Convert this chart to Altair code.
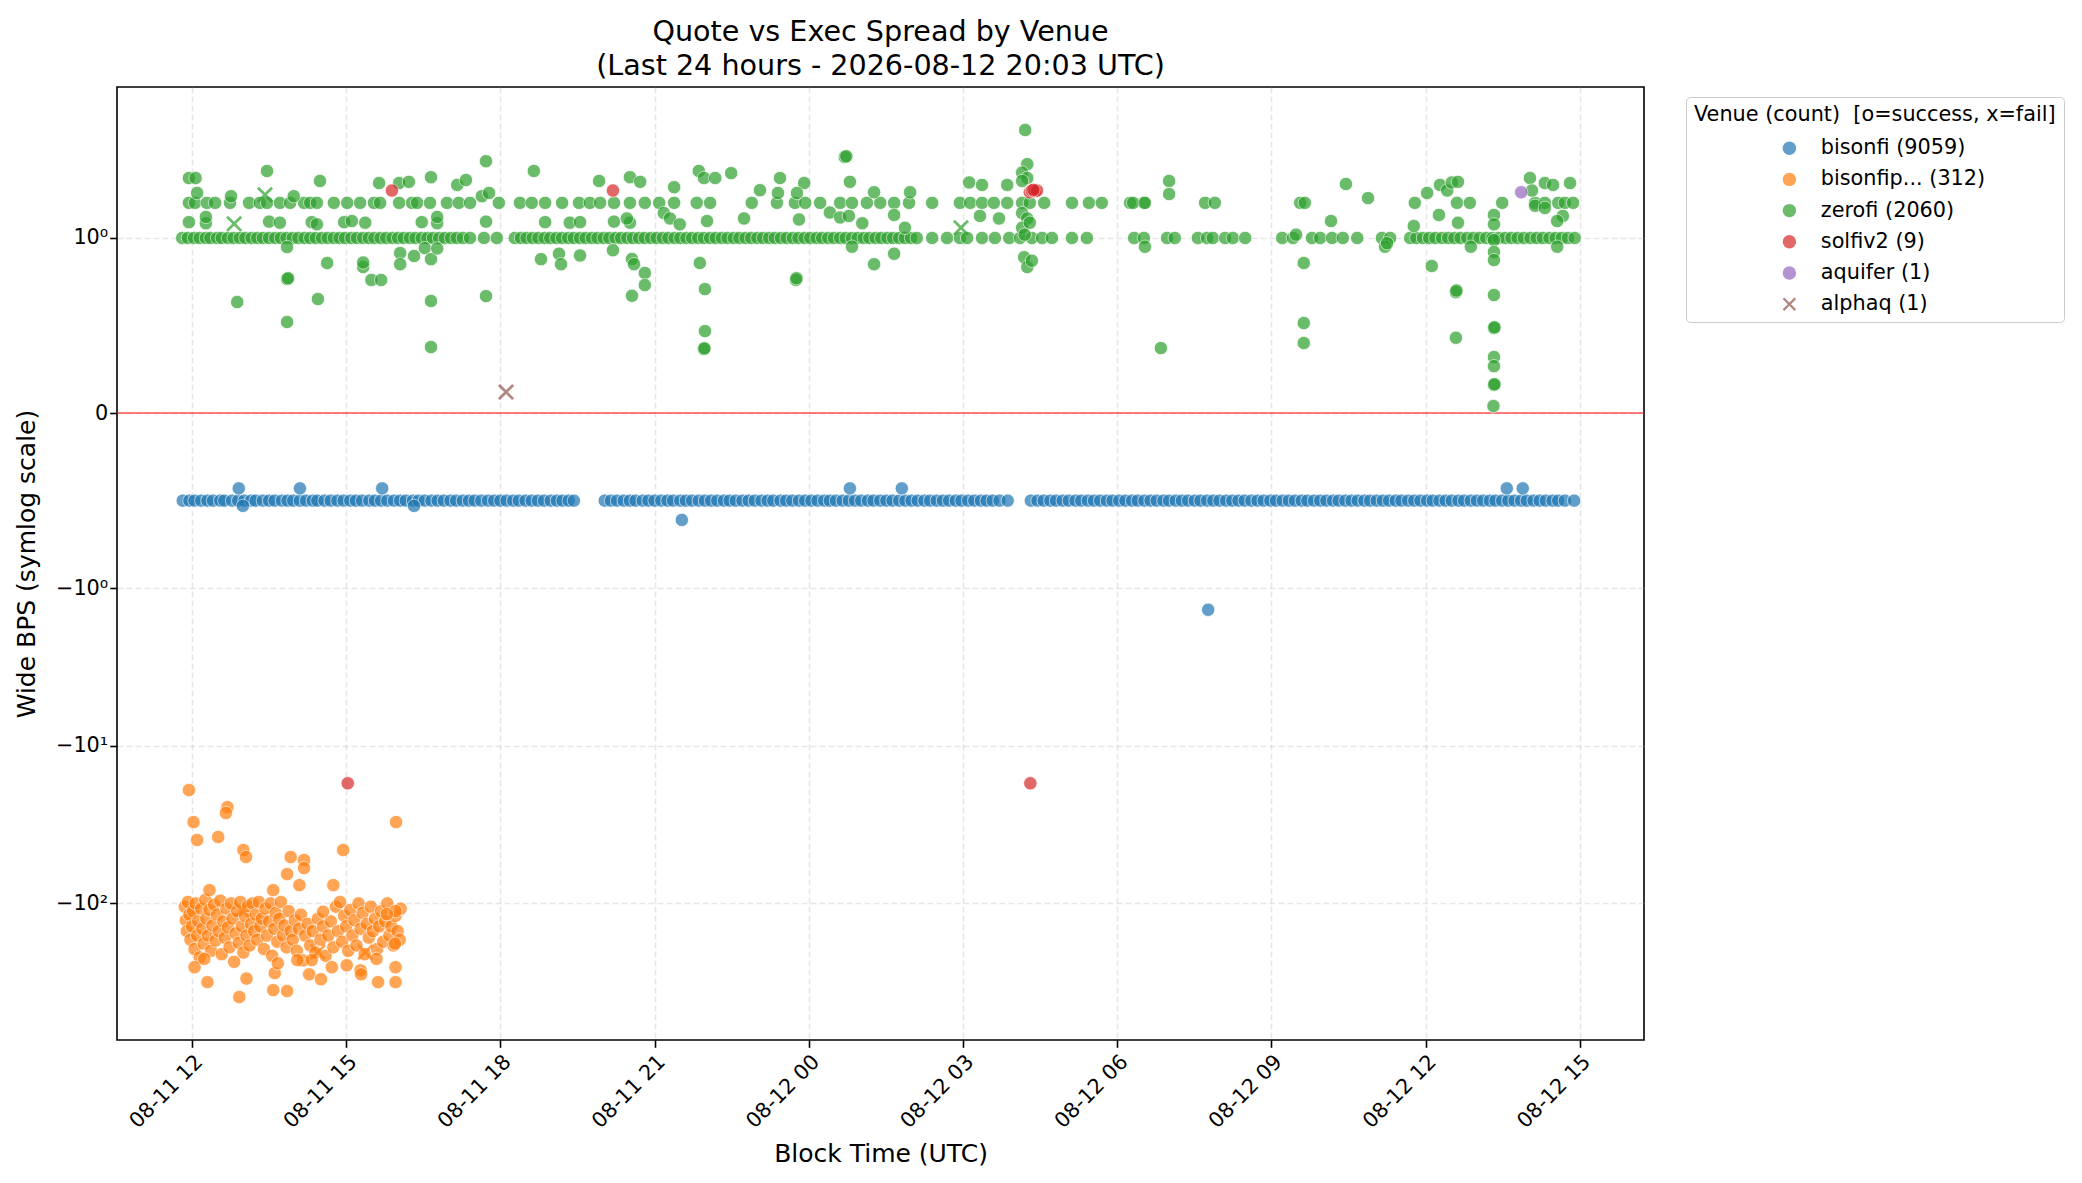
import altair as alt
import pandas as pd

# ---------------- data (times in hours since 2026-08-11 00:00 UTC) ----------------
L_B = "bisonfi (9059)"
L_BP = "bisonfip... (312)"
L_Z = "zerofi (2060)"
L_S = "solfiv2 (9)"
L_AQ = "aquifer (1)"
L_AL = "alphaq (1)"
K_BP_FAIL = "bisonfip fail"
K_Z_FAIL = "zerofi fail"

venue_labels = [L_B, L_BP, L_Z, L_S, L_AQ, L_AL]

# bisonfi: dense band at -0.5
bisonfi_band_level = -0.5
bisonfi_band_t = [
    11.82, 11.95, 12.05, 12.18, 12.30, 12.41, 12.55, 12.63, 12.78, 12.90, 13.02, 13.15, 13.24, 13.38,
    13.50, 13.61, 13.75, 13.86, 13.97, 14.10, 14.22, 14.35, 14.44, 14.58, 14.70, 14.83, 14.95, 15.08,
    15.19, 15.31, 15.45, 15.56, 15.68, 15.80, 15.93, 16.05, 16.16, 16.30, 16.41, 16.53, 16.66, 16.78,
    16.90, 17.03, 17.14, 17.27, 17.39, 17.50, 17.63, 17.76, 17.88, 18.00, 18.12, 18.25, 18.36, 18.49,
    18.61, 18.73, 18.85, 18.98, 19.10, 19.21, 19.33, 19.43,
    20.03, 20.15, 20.27, 20.40, 20.52, 20.63, 20.77, 20.88, 21.00, 21.13, 21.25, 21.36, 21.50, 21.61,
    21.73, 21.86, 21.98, 22.10, 22.22, 22.35, 22.46, 22.58, 22.71, 22.83, 22.95, 23.08, 23.20, 23.31,
    23.45, 23.56, 23.68, 23.81, 23.93, 24.05, 24.17, 24.30, 24.41, 24.53, 24.66, 24.78, 24.90, 25.02,
    25.15, 25.26, 25.39, 25.51, 25.63, 25.76, 25.88, 26.00, 26.12, 26.25, 26.36, 26.49, 26.61, 26.73,
    26.86, 26.97, 27.10, 27.22, 27.35, 27.46, 27.58, 27.71, 27.87,
    28.32, 28.45, 28.57, 28.70, 28.81, 28.94, 29.06, 29.19, 29.30, 29.43, 29.55, 29.67, 29.80, 29.91,
    30.04, 30.16, 30.29, 30.40, 30.53, 30.65, 30.77, 30.90, 31.01, 31.14, 31.26, 31.38, 31.51, 31.62,
    31.75, 31.87, 31.99, 32.12, 32.24, 32.36, 32.48, 32.61, 32.73, 32.85, 32.98, 33.09, 33.22, 33.34,
    33.46, 33.59, 33.70, 33.83, 33.95, 34.07, 34.20, 34.31, 34.44, 34.56, 34.68, 34.81, 34.92, 35.05,
    35.17, 35.29, 35.42, 35.53, 35.66, 35.78, 35.90, 36.03, 36.14, 36.27, 36.39, 36.51, 36.64, 36.75,
    36.88, 37.00, 37.12, 37.25, 37.36, 37.49, 37.61, 37.73, 37.86, 37.97, 38.10, 38.22, 38.34, 38.47,
    38.58, 38.71, 38.89,
]
bisonfi_out_t = [12.91, 14.10, 15.70, 24.80, 25.81, 37.58, 37.89, 21.53, 12.99, 16.32, 31.77]
bisonfi_out_v = [-0.43, -0.43, -0.43, -0.43, -0.43, -0.43, -0.43, -0.61, -0.53, -0.53, -1.37]

# bisonfip... : cluster around -100 .. -400
bisonfip_t = [
    11.86, 11.88, 11.90, 11.92, 11.95, 11.97, 12.00, 12.02, 12.05, 12.07, 12.10, 12.12, 12.15, 12.18,
    12.20, 12.23, 12.26, 12.28, 12.31, 12.34, 12.37, 12.40, 12.43, 12.46, 12.49, 12.52, 12.55, 12.58,
    12.61, 12.64, 12.67, 12.70, 12.73, 12.76, 12.79, 12.82, 12.85, 12.88, 12.91, 12.94, 12.97, 13.00,
    13.03, 13.06, 13.09, 13.12, 13.15, 13.18, 13.21, 13.24, 13.27, 13.30, 13.33, 13.36, 13.40, 13.43,
    13.46, 13.50, 13.53, 13.56, 13.60, 13.63, 13.66, 13.70, 13.73, 13.77, 13.80, 13.84, 13.88, 13.92,
    13.96, 14.00, 14.04, 14.08, 14.12, 14.16, 14.20, 14.25, 14.30, 14.35, 14.40, 14.45, 14.50, 14.55,
    14.60, 14.65, 14.70, 14.75, 14.80, 14.84, 14.88, 14.92, 14.96, 15.00, 15.04, 15.08, 15.12, 15.16,
    15.20, 15.24, 15.28, 15.32, 15.36, 15.40, 15.44, 15.48, 15.52, 15.56, 15.60, 15.64, 15.68, 15.72,
    15.76, 15.80, 15.84, 15.88, 15.92, 15.96, 16.00, 16.04, 16.06,
    11.94, 12.03, 12.10, 12.51, 12.69, 12.66, 13.00, 13.05, 13.92, 14.18, 14.18, 13.85, 14.09, 14.75,
    14.94, 15.97, 13.58, 12.34,
    12.92, 13.58, 13.85, 12.30, 13.06, 12.05, 13.61, 13.67, 14.28, 14.51, 15.62, 15.96, 15.96, 15.28,
    15.29, 12.24, 14.05, 14.33, 14.72, 15.01, 15.59, 15.95, 15.96, 14.55, 15.79,
]
bisonfip_v = [
    -105, -128, -150, -98, -118, -170, -140, -112, -195, -100, -160, -130, -220, -108,
    -145, -180, -95, -125, -160, -110, -200, -138, -102, -172, -118, -150, -96, -210,
    -130, -165, -108, -142, -190, -100, -125, -235, -155, -112, -178, -98, -140, -205,
    -120, -160, -104, -185, -135, -100, -150, -118, -170, -98, -140, -125, -195, -108,
    -160, -130, -100, -215, -145, -115, -175, -125, -98, -160, -138, -190, -112, -150,
    -170, -128, -200, -145, -118, -230, -160, -135, -185, -150, -205, -125, -170, -140,
    -215, -160, -130, -190, -105, -150, -98, -175, -120, -140, -200, -110, -160, -128,
    -185, -100, -145, -115, -210, -135, -165, -105, -150, -125, -195, -140, -112, -175,
    -130, -100, -160, -140, -185, -120, -150, -170, -108,
    -19.1, -30.5, -39.6, -37.9, -24.5, -26.7, -45.9, -50.8, -50.8, -53.1, -59.7, -65.2, -76.6, -76.6,
    -45.9, -30.5, -82.4, -82.4,
    -393, -355, -360, -316, -300, -254, -277, -240, -282, -303, -316, -316, -254, -266,
    -282, -225, -229, -229, -254, -247, -225, -180, -112, -113, -117,
]
bisonfip_fail_t = [12.97, 14.45, 15.37]
bisonfip_fail_v = [-110, -204, -204]

# zerofi: bands at 1.0 and ~1.67 plus scattered values
zerofi_band1_level = 1.0
zerofi_band1_t = [
    11.81, 11.92, 12.04, 12.15, 12.27, 12.36, 12.49, 12.58, 12.70, 12.81, 12.93, 13.04, 13.16, 13.27,
    13.38, 13.50, 13.62, 13.73, 13.84, 13.96, 14.07, 14.19, 14.30, 14.41, 14.53, 14.64, 14.76, 14.87,
    14.98, 15.10, 15.21, 15.33, 15.44, 15.55, 15.67, 15.78, 15.90, 16.01, 16.12, 16.24, 16.35, 16.47,
    16.58, 16.69, 16.81, 16.92, 17.04, 17.15, 17.27, 17.41, 17.68, 17.93,
    18.28, 18.40, 18.51, 18.63, 18.74, 18.86, 18.97, 19.09, 19.20, 19.32, 19.43, 19.55, 19.66, 19.78,
    19.89, 20.01, 20.12, 20.24, 20.35, 20.47, 20.58, 20.70, 20.81, 20.93, 21.04, 21.16, 21.27, 21.39,
    21.50, 21.62, 21.73, 21.85, 21.96, 22.08, 22.19, 22.31, 22.42, 22.54, 22.65, 22.77, 22.88, 23.00,
    23.11, 23.23, 23.34, 23.46, 23.57, 23.69, 23.80, 23.92, 24.03, 24.15, 24.26, 24.38, 24.49, 24.61,
    24.72, 24.84, 24.95, 25.07, 25.18, 25.30, 25.41, 25.53, 25.64, 25.76, 25.87, 25.99, 26.10,
    26.40, 26.69, 26.94, 27.08, 27.37, 27.62, 27.90, 28.11, 28.34, 28.54, 28.73, 29.12, 29.41,
    30.33, 30.52, 30.97, 31.12, 31.57, 31.75, 31.86, 32.10, 32.25, 32.49,
    33.21, 33.42, 33.79, 33.95, 34.18, 34.39, 34.67, 35.15, 35.31,
    35.70, 35.82, 35.95, 36.07, 36.19, 36.32, 36.44, 36.56, 36.68, 36.81, 36.93, 37.05, 37.18, 37.30,
    37.42, 37.55, 37.67, 37.79, 37.91, 38.04, 38.16, 38.28, 38.41, 38.53, 38.65, 38.77, 38.90,
]
zerofi_band2_level = 1.67
zerofi_band2_t = [
    11.94, 12.06, 12.29, 12.45, 12.74, 13.11, 13.32, 13.46, 13.71, 13.91, 14.18, 14.30, 14.43, 14.76,
    15.02, 15.27, 15.54, 15.66, 16.03, 16.28, 16.38, 16.63, 16.96, 17.19, 17.41, 17.97, 18.38, 18.61,
    18.87, 19.20, 19.53, 19.74, 19.94, 20.21, 20.52,
    20.81, 21.09, 21.38, 21.82, 22.08, 22.89, 23.38, 23.73, 23.93, 24.22, 24.61, 24.84, 25.13, 25.39,
    25.66, 25.95, 26.40, 26.94, 27.14, 27.37, 27.60, 27.86, 28.15, 28.30, 28.58, 29.12, 29.45, 29.70,
    30.25, 30.52, 30.31, 30.54, 31.71, 31.90, 33.56, 33.65, 35.79, 36.61, 36.86, 37.49, 38.13, 38.32,
    38.58, 38.71, 38.87,
]
zerofi_other_t = [
    11.94, 12.07, 12.10, 12.76, 13.46, 14.49, 13.98, 15.64, 16.03, 16.22, 16.65, 17.16, 17.33, 17.72,
    17.64, 17.78, 18.65, 19.92, 20.52,
    11.94, 12.27, 13.50, 13.71, 14.33, 14.43, 14.96, 15.11, 15.37, 16.47, 16.77, 17.72, 18.87, 19.35,
    19.55, 20.21, 20.52, 12.27, 16.77,
    13.85, 14.63, 15.33, 15.33, 16.05, 16.05, 16.32, 16.53, 16.65, 16.77, 13.85, 13.87, 15.49, 15.68,
    12.88, 14.45, 16.65, 17.72, 13.85, 16.65, 18.79, 19.14, 19.18, 19.55, 20.19, 20.56, 20.56,
    20.72, 21.38, 21.86, 21.96, 22.18, 22.49, 23.05, 23.44, 23.40, 23.91, 23.77, 24.70, 24.73, 24.80,
    25.27, 25.97, 27.12, 27.37, 27.86, 28.21, 28.25, 28.15, 28.25, 28.15, 28.15, 28.25, 28.15, 28.19,
    28.25, 28.34, 28.30, 28.20,
    20.46, 21.18, 21.30, 21.49, 22.02, 22.74, 23.81, 24.41, 24.61, 24.78, 25.04, 25.66, 25.87, 27.33,
    27.70,
    20.60, 20.81, 20.81, 21.88, 21.98, 21.98, 21.96, 21.97, 23.75, 23.76, 25.27, 25.66, 24.84, 30.54,
    31.01, 31.01, 30.85, 33.63, 33.63, 33.63, 33.48, 34.16, 34.45, 34.88, 35.21, 35.25, 35.77, 36.03,
    36.28, 36.42, 36.51, 36.63, 36.26, 36.63, 36.12, 36.59, 36.60, 36.59, 36.88,
    37.33, 37.33, 37.33, 37.33, 37.33, 37.33, 37.33, 37.34, 37.33, 37.33, 37.33, 37.34, 37.32,
    38.03, 38.07, 38.32, 38.48, 38.81, 38.13, 38.32, 38.67, 38.56, 38.56,
]
zerofi_other_v = [
    2.40, 2.40, 1.93, 1.84, 2.66, 2.30, 1.84, 2.23, 2.23, 2.27, 2.43, 2.17, 2.33, 3.07,
    1.84, 1.93, 2.66, 2.30, 2.43,
    1.26, 1.24, 1.27, 1.25, 1.26, 1.22, 1.26, 1.28, 1.25, 1.26, 1.24, 1.27, 1.26, 1.25,
    1.26, 1.27, 1.25, 1.36, 1.36,
    0.948, 0.857, 0.834, 0.86, 0.914, 0.85, 0.897, 0.942, 0.879, 0.94, 0.765, 0.77, 0.76, 0.76,
    0.634, 0.651, 0.64, 0.668, 0.52, 0.377, 0.879, 0.91, 0.85, 0.90, 0.93, 0.67, 0.88,
    2.27, 2.10, 2.66, 2.40, 2.40, 2.58, 2.01, 2.40, 1.93, 2.23, 1.93, 3.26, 3.30, 2.27,
    1.95, 1.95, 2.25, 2.17, 2.17, 4.84, 2.94, 2.60, 2.40, 2.30, 1.44, 1.33, 1.16, 0.89,
    0.834, 0.87, 1.25, 1.05,
    1.33, 1.44, 1.33, 1.22, 1.28, 1.33, 1.31, 1.45, 1.35, 1.38, 1.24, 1.40, 1.16, 1.38,
    1.33,
    0.85, 0.80, 0.731, 0.857, 0.708, 0.468, 0.365, 0.37, 0.76, 0.77, 0.85, 0.91, 0.95, 0.95,
    2.30, 1.90, 0.371, 0.857, 0.514, 0.40, 1.05, 1.28, 2.20, 1.79, 0.95, 0.97, 1.19, 1.93,
    2.17, 2.0, 2.25, 2.27, 1.40, 1.25, 0.84, 0.69, 0.70, 0.43, 0.95,
    1.40, 1.22, 0.988, 0.92, 0.874, 0.674, 0.485, 0.49, 0.320, 0.268, 0.160, 0.165, 0.040,
    2.40, 2.0, 2.23, 2.17, 2.23, 1.6, 1.55, 1.38, 1.28, 0.95,
]
zerofi_fail_t = [12.82, 13.42, 26.96]
zerofi_fail_v = [1.23, 1.88, 1.16]

solfiv2_t = [15.89, 20.19, 28.30, 28.34, 28.40, 28.44, 28.37, 15.03, 28.31]
solfiv2_v = [2.0, 2.0, 1.95, 2.0, 1.98, 2.0, 2.02, -17.3, -17.3]

aquifer_t = [37.86]
aquifer_v = [1.95]

alphaq_fail_t = [18.11]
alphaq_fail_v = [0.12]

tick_hours = [12, 15, 18, 21, 24, 27, 30, 33, 36, 39]
x_domain_hours = [10.541, 40.249]
y_tick_values = [-3.1111, -2.1111, -1.1111, 0.0, 1.1111]
y_domain = [-3.978, 2.069]

keys = venue_labels + [K_BP_FAIL, K_Z_FAIL]
colors = ["#1f77b4", "#ff7f0e", "#2ca02c", "#d62728", "#9467bd", "#8c564b", "#ff7f0e", "#2ca02c"]
XPATH = ("M-1,-0.76L-0.76,-1L0,-0.24L0.76,-1L1,-0.76L0.24,0L1,0.76L0.76,1L0,0.24L-0.76,1L-1,0.76L-0.24,0Z")
shapes = ["circle"] * 5 + [XPATH] * 3
FAIL_TEST = "datum.key == 'bisonfip fail' || datum.key == 'zerofi fail' || datum.key == 'alphaq (1)'"

# ---------------- build table ----------------
rows = []


def add(key, ts, vs):
    for t, v in zip(ts, vs):
        rows.append({"key": key, "h": t, "v": v})


add(L_B, bisonfi_band_t, [bisonfi_band_level] * len(bisonfi_band_t))
add(L_B, bisonfi_out_t, bisonfi_out_v)
add(L_BP, bisonfip_t, bisonfip_v)
add(K_BP_FAIL, bisonfip_fail_t, bisonfip_fail_v)
add(L_Z, zerofi_band1_t, [zerofi_band1_level] * len(zerofi_band1_t))
add(L_Z, zerofi_band2_t, [zerofi_band2_level] * len(zerofi_band2_t))
add(L_Z, zerofi_other_t, zerofi_other_v)
add(K_Z_FAIL, zerofi_fail_t, zerofi_fail_v)
add(L_S, solfiv2_t, solfiv2_v)
add(L_AQ, aquifer_t, aquifer_v)
add(L_AL, alphaq_fail_t, alphaq_fail_v)

df = pd.DataFrame(rows)
base_ms = int(pd.Timestamp("2026-08-11 00:00:00", tz="UTC").value // 10**6)
H = 3600000
df["t"] = base_ms + (df["h"] * H).round().astype("int64")
df["order"] = range(len(df))

tick_ms = [base_ms + h * H for h in tick_hours]
x_dom = [base_ms + int(h * H) for h in x_domain_hours]

FONT = "DejaVu Sans"

leg = alt.Legend(
    title="Venue (count) \u00a0[o=success, x=fail]",
    orient="none", legendX=1569, legendY=10,
    values=venue_labels,
    titleFont=FONT, titleFontSize=20.8, titleFontWeight="normal", titleColor="black",
    labelFont=FONT, labelFontSize=20.8, labelColor="black",
    labelLimit=400, titleLimit=500,
    symbolSize=180, symbolOffset=85, labelOffset=21,
    rowPadding=9.2, titlePadding=12, padding=8,
    strokeColor="#cccccc", cornerRadius=4, fillColor="white",
    symbolOpacity=0.7, symbolStrokeColor="white", symbolStrokeWidth=0.8,
)

points = alt.Chart(df).transform_calculate(
    T="datum.v >= 0 ? (datum.v <= 1 ? datum.v * 1.1111 : 1.1111 + log(datum.v) / LN10)"
      " : -(datum.v >= -1 ? -datum.v * 1.1111 : 1.1111 + log(-datum.v) / LN10)"
).mark_point(filled=True, opacity=0.7, stroke="white").encode(
    x=alt.X("t:T", scale=alt.Scale(type="utc", domain=x_dom, nice=False),
            axis=alt.Axis(values=tick_ms,
                          labelExpr="utcFormat(datum.value, '%m-%d %H')",
                          labelAngle=315, labelAlign="right", labelBaseline="top",
                          labelPadding=4, title="Block Time (UTC)", titlePadding=10)),
    y=alt.Y("T:Q", scale=alt.Scale(domain=y_domain, nice=False, zero=False),
            axis=alt.Axis(values=y_tick_values,
                          labelExpr="datum.value > 1 ? '10⁰' : datum.value > -0.5 ? '0' : "
                                    "datum.value > -1.5 ? '−10⁰' : datum.value > -2.5 ? '−10¹' : '−10²'",
                          title="Wide BPS (symlog scale)", titlePadding=16)),
    color=alt.Color("key:N", scale=alt.Scale(domain=keys, range=colors), legend=leg),
    shape=alt.Shape("key:N", scale=alt.Scale(domain=keys, range=shapes), legend=leg),
    size=alt.condition(FAIL_TEST, alt.value(260), alt.value(180)),
    strokeWidth=alt.condition(FAIL_TEST, alt.value(0), alt.value(0.8)),
    order=alt.Order("order:Q"),
)

zero_line = alt.Chart(pd.DataFrame({"z": [0]})).mark_rule(
    color="red", opacity=0.5, strokeWidth=2
).encode(y=alt.datum(0))

chart = alt.layer(zero_line, points).properties(
    width=1527, height=953,
    padding={"left": 109, "top": 79, "right": 430, "bottom": 130},
    autosize=alt.AutoSizeParams(type="none"),
    title=alt.TitleParams(
        text=["Quote vs Exec Spread by Venue", "(Last 24 hours - 2026-08-12 20:03 UTC)"],
        font=FONT, fontSize=28.6, fontWeight="normal", color="black",
        lineHeight=34, offset=6, anchor="middle",
    ),
).configure(font=FONT).configure_view(
    stroke="black", strokeWidth=1.6
).configure_axis(
    labelFont=FONT, labelFontSize=20.8, labelColor="black",
    titleFont=FONT, titleFontSize=25, titleFontWeight="normal", titleColor="black",
    tickColor="black", tickWidth=1.6, tickSize=7.3,
    domain=False, grid=True, gridColor="#b0b0b0", gridOpacity=0.3,
    gridWidth=1.6, gridDash=[6, 3],
)

chart.save("out.html", embed_options={"renderer": "svg", "actions": False})
